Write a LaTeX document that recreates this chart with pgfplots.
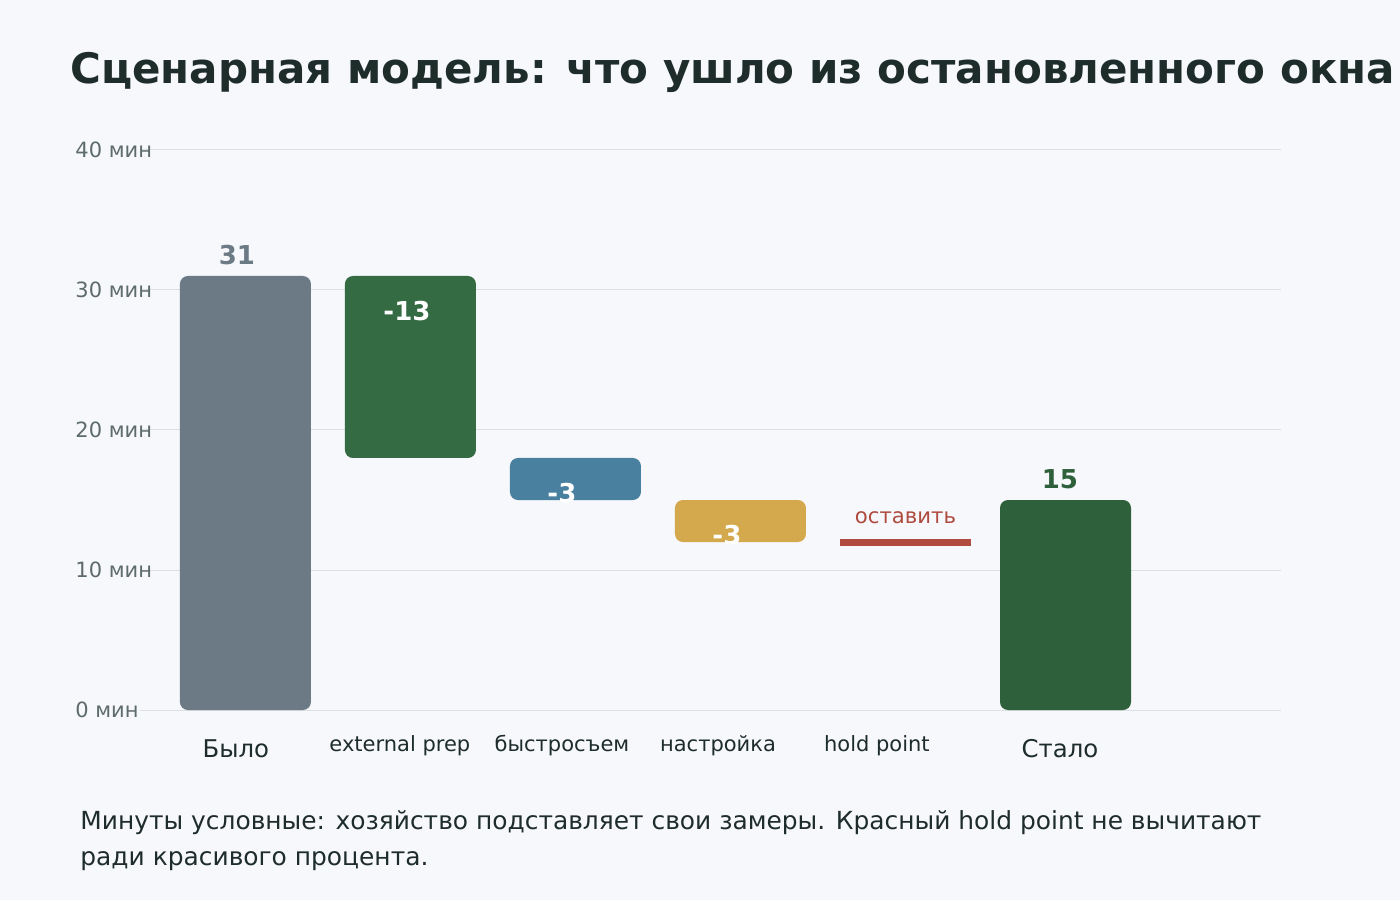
\documentclass[border=0pt]{standalone}
\usepackage{pgfplots}
\pgfplotsset{compat=1.18}
\usepackage{pgfplotstable}
\usepackage{fontspec}
\setmainfont{DejaVu Sans}

\definecolor{bg}{HTML}{F6F8FB}
\definecolor{titlec}{HTML}{1F2D2A}
\definecolor{tickc}{HTML}{5E6B6B}
\definecolor{gridc}{HTML}{DCDFE3}
\definecolor{barGray}{HTML}{6C7A86}
\definecolor{barGreen}{HTML}{346B43}
\definecolor{barBlue}{HTML}{4A809F}
\definecolor{barGold}{HTML}{D4A84C}
\definecolor{barRed}{HTML}{B04B40}
\definecolor{barDark}{HTML}{2F603C}

% waterfall: invisible base + one column per step
\pgfplotstableread{
x     base   a   b   c   d   e    f
0     0      31  0   0   0   0    0
1     18     0   13  0   0   0    0
2     15     0   0   3   0   0    0
3     12     0   0   0   3   0    0
4     11.75  0   0   0   0   0.5  0
4.97  0      0   0   0   0   0    15
}\steps

\newcommand{\steplabel}[1]{\raisebox{3pt}{#1}}
\tikzset{val/.style={font=\fontsize{13}{15}\selectfont\bfseries}}

\begin{document}
\begin{tikzpicture}
\fill[bg] (0pt,0pt) rectangle (700pt,450pt);
\node[anchor=west, inner sep=0pt, text=titlec,
      font=\fontsize{21}{25}\selectfont\bfseries] at (35pt,414pt)
  {Сценарная модель: что ушло из остановленного окна};
\begin{axis}[
  at={(70pt,95pt)}, anchor=south west,
  scale only axis, width=570.5pt, height=280pt,
  xmin=-0.639, xmax=6.276, ymin=0, ymax=40,
  ybar stacked, bar width=65.5pt,
  axis line style={draw=none},
  tick style={draw=none},
  ymajorgrids, grid style={gridc, line width=0.5pt},
  ytick={0,10,20,30,40},
  yticklabels={0 мин,10 мин,20 мин,30 мин,40 мин},
  yticklabel style={anchor=west, inner sep=0pt, xshift=-32.5pt,
                    text=tickc, font=\fontsize{10.5}{12}\selectfont},
  xtick={-0.058,0.936,1.918,2.864,3.827,4.936},
  xticklabels={{\fontsize{12.2}{14}\selectfont Было},\steplabel{external prep},\steplabel{быстросъем},\steplabel{настройка},\steplabel{hold point},{\fontsize{12.2}{14}\selectfont Стало}},
  xticklabel style={anchor=base, inner sep=0pt, yshift=-23.5pt,
                    text=titlec, font=\fontsize{10.5}{12}\selectfont},
  clip=false,
]
\addplot[draw=none, fill=none] table[x=x, y=base]{\steps};
\addplot[draw=none, fill=barGray, rounded corners=4pt] table[x=x, y=a]{\steps};
\addplot[draw=none, fill=barGreen, rounded corners=4pt] table[x=x, y=b]{\steps};
\addplot[draw=none, fill=barBlue, rounded corners=4pt] table[x=x, y=c]{\steps};
\addplot[draw=none, fill=barGold, rounded corners=4pt] table[x=x, y=d]{\steps};
\addplot[draw=none, fill=barRed] table[x=x, y=e]{\steps};
\addplot[draw=none, fill=barDark, rounded corners=4pt] table[x=x, y=f]{\steps};

\coordinate (v0) at (axis cs:-0.052,32.5);
\coordinate (v1) at (axis cs:0.979,28.5);
\coordinate (v2) at (axis cs:1.918,15.5);
\coordinate (v3) at (axis cs:2.918,12.5);
\coordinate (v4) at (axis cs:4.0,13.7);
\coordinate (v5) at (axis cs:4.936,16.5);
\end{axis}
% value labels on top of the bars
\node[val, text=barGray] at (v0) {31};
\node[val, text=white] at (v1) {-13};
\node[val, text=white] at (v2) {-3};
\node[val, text=white] at (v3) {-3};
\node[text=barRed, font=\fontsize{10.6}{12}\selectfont] at (v4) {оставить};
\node[val, text=barDark] at (v5) {15};

\node[anchor=base west, inner sep=0pt, text=titlec, font=\fontsize{12.45}{14}\selectfont] at (40pt,35.5pt)
  {Минуты условные: хозяйство подставляет свои замеры. Красный hold point не вычитают};
\node[anchor=base west, inner sep=0pt, text=titlec, font=\fontsize{12.45}{14}\selectfont] at (40pt,17.5pt)
  {ради красивого процента.};
\end{tikzpicture}
\end{document}
